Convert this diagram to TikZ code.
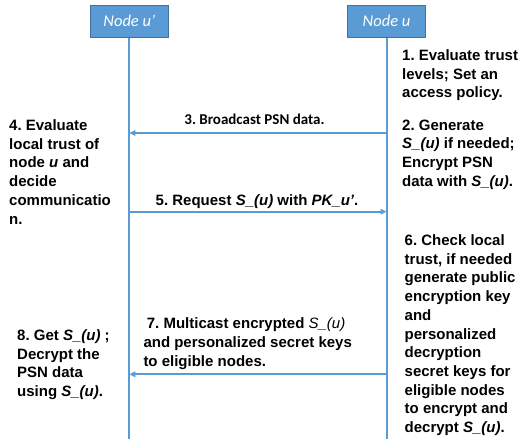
\documentclass[tikz,border=0pt]{standalone}
\usepackage{fontspec}
\setmainfont{Liberation Sans}
\newfontfamily\carlito{Carlito}
\usetikzlibrary{arrows.meta}
\frenchspacing
\definecolor{lifeblue}{HTML}{5B9BD5}
\definecolor{hdrblue}{HTML}{5B9BD5}
\definecolor{hdrborder}{HTML}{41719C}
\tikzset{
  life/.style={draw=lifeblue, line width=2pt},
  hdr/.style={draw=hdrborder, fill=hdrblue, line width=0.8pt, minimum width=78pt, minimum height=32pt, inner sep=0pt, text=white, font=\carlito\itshape\fontsize{16.5}{19}\selectfont},
  msg/.style={draw=lifeblue, line width=1.8pt, -{Triangle[length=6pt,width=5.5pt]}},
  note/.style={anchor=north west, align=left, inner sep=0pt, font=\frenchspacing\bfseries\fontsize{15}{18.7}\selectfont},
  lbl/.style={inner sep=0pt, font=\frenchspacing\bfseries\fontsize{15}{18.7}\selectfont},
  clbl/.style={inner sep=0pt, font=\frenchspacing\carlito\bfseries\fontsize{15}{18}\selectfont},
}
\begin{document}
\begin{tikzpicture}[x=1pt,y=-1pt]
\useasboundingbox (0,0) rectangle (530,439);
% headers
\node[hdr] (np) at (129.3,21.2) {Node u’};
\node[hdr] (nu) at (386.5,21.2) {Node u};
% lifeline ends
\coordinate (npend) at (129.3,439);
\coordinate (nuend) at (386.5,439);
\draw[life] (np.south) -- (npend);
\draw[life] (nu.south) -- (nuend);
% message end points
\coordinate (u3) at (386.5,133);
\coordinate (p3) at (129.3,133);
\coordinate (p5) at (129.3,211.7);
\coordinate (u5) at (386.5,211.7);
\coordinate (u7) at (386.5,374.3);
\coordinate (p7) at (129.3,374.3);
\draw[msg] (u3) -- (p3);
\draw[msg] (p5) -- (u5);
\draw[msg] (u7) -- (p7);
% labels
\node[clbl] (l3) at (254.5,119.5) {3. Broadcast PSN data.};
\node[lbl, anchor=base] (l5) at (257,205.4) {5. Request \textit{S\_(u)} with \textit{PK\_u’}.};
\node[note] (l7) at (143.3,317.8) {\hspace{3.4pt}7. Multicast encrypted {\mdseries\itshape S\_(u)}\\and personalized secret keys\\to eligible nodes.};
% notes
\node[note] (t1) at (402,49.5) {1. Evaluate trust\\levels; Set an\\access policy.};
\node[note] (t2) at (402,119.5) {2. Generate\\\textit{S\_(u)} if needed;\\Encrypt PSN\\data with \textit{S\_(u)}.};
\node[note] (t4) at (9,119.5) {4. Evaluate\\local trust of\\node \textit{u} and\\decide\\communicatio\\n.};
\node[note] (t6) at (404.5,234.5) {6. Check local\\trust, if needed\\generate public\\encryption key\\and\\personalized\\decryption\\secret keys for\\eligible nodes\\to encrypt and\\decrypt \textit{S\_(u)}.};
\node[note] (t8) at (17,329.5) {8. Get \textit{S\_(u)} ;\\Decrypt the\\PSN data\\using \textit{S\_(u)}.};
\end{tikzpicture}
\end{document}
